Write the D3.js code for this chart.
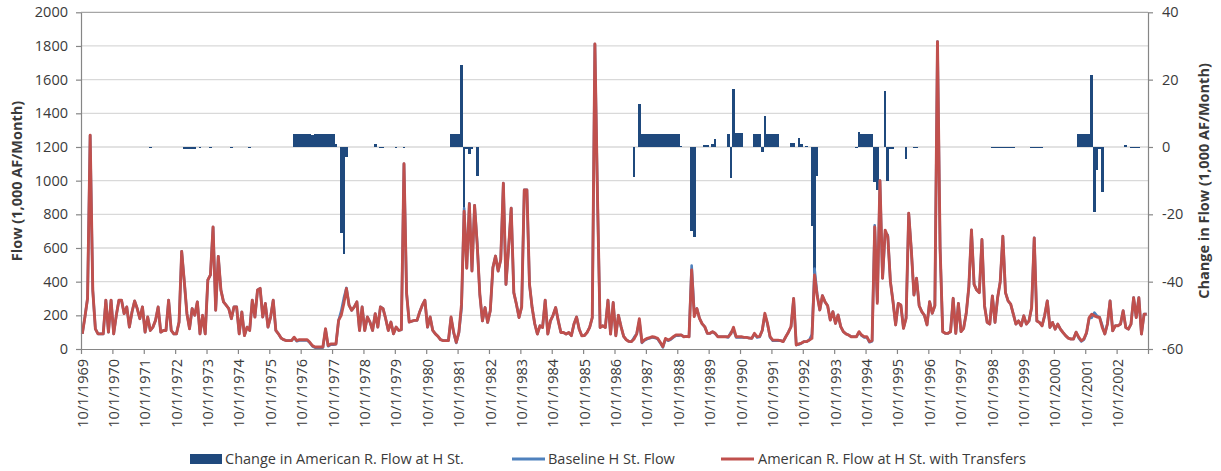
<!DOCTYPE html>
<html><head><meta charset="utf-8">
<script src="https://cdn.jsdelivr.net/npm/d3@7"></script>
<style>
html,body{margin:0;padding:0;background:#fff;}
svg{display:block;}
text{font-family:"Open Sans",sans-serif;fill:#3a3a3a;}
</style></head><body>
<svg id="chart" width="1221" height="471"></svg>
<script>
// Monthly series, water years Oct 1969 - Sep 2003 (one row = one water year, Oct..Sep)
const withTransfers = [
  90,190,300,1270,350,120,90,90,90,290,100,290,
  90,200,290,290,210,250,130,220,285,240,180,250,
  100,190,110,130,170,250,100,110,110,290,110,90,
  90,160,580,400,210,120,240,200,280,90,200,90,
  410,440,725,230,550,350,280,260,240,180,250,250,
  90,220,80,130,110,290,190,350,360,190,270,130,
  190,290,110,90,65,55,50,50,50,70,50,55,
  55,55,55,40,20,12,12,12,12,120,20,30,
  30,30,170,200,270,360,260,230,250,280,110,250,
  110,190,160,110,210,130,250,240,180,110,160,90,
  130,110,115,1100,330,160,165,170,170,220,260,290,
  130,190,110,90,75,55,50,50,50,190,100,40,
  100,265,818,480,863,463,853,620,325,167,246,158,
  227,483,552,463,530,985,384,600,837,335,266,187,
  250,945,945,384,246,150,89,138,128,290,89,167,
  200,246,167,98,98,89,98,79,148,190,118,79,
  80,98,128,187,1812,900,128,138,128,290,89,276,
  79,200,133,75,55,45,44,60,90,180,40,55,
  63,68,73,70,63,40,14,63,53,60,73,83,
  83,83,73,75,73,470,192,240,182,150,133,93,
  93,103,93,73,73,73,73,73,90,129,73,73,
  73,69,69,65,63,93,73,75,110,212,152,73,
  53,53,53,50,44,73,100,133,300,24,30,35,
  44,44,53,63,440,317,232,317,280,257,172,222,
  152,202,133,103,90,83,73,73,73,103,83,73,
  73,44,50,725,271,1000,420,706,667,400,281,143,
  271,261,123,182,806,588,321,420,257,222,200,143,
  281,212,257,1826,600,103,93,93,103,301,93,271,
  103,123,212,370,707,384,350,335,650,256,158,148,
  315,158,305,400,670,335,286,266,207,148,167,138,
  197,148,167,246,660,167,158,138,200,286,128,158,
  118,148,118,98,79,65,59,59,100,70,49,60,
  98,187,207,197,190,187,128,89,150,286,108,138,
  138,148,227,128,118,148,305,187,305,89,207,207
];
const baseline = [
  90,190,300,1270,350,120,90,90,90,290,100,290,
  90,200,290,290,210,250,130,220,285,240,180,250,
  100,190,110,130,170,250,100,110,110,290,110,90,
  90,160,580,400,211,121,241,201,280,90,200,90,
  410,440,725,230,550,350,280,260,240,180,250,250,
  90,220,80,130,110,290,190,350,360,190,270,130,
  190,290,110,90,65,55,50,50,50,66,46,51,
  51,51,51,36,16,8,8,8,8,116,16,26,
  26,29,170,226,302,363,260,230,250,280,110,250,
  110,190,160,110,209,130,250,240,180,110,160,90,
  130,110,115,1100,330,160,165,170,170,220,260,290,
  130,190,110,90,75,55,50,50,50,186,96,36,
  96,241,836,481,865,464,853,629,325,167,246,158,
  227,483,552,463,530,985,384,600,837,335,266,187,
  250,945,945,384,246,150,89,138,128,290,89,167,
  200,246,167,98,98,89,98,79,148,190,118,79,
  80,98,128,187,1812,900,128,138,128,290,89,276,
  79,200,133,75,55,45,44,69,90,167,36,51,
  59,64,69,66,59,36,10,59,49,56,69,79,
  79,83,73,75,73,495,219,240,182,150,132,92,
  93,102,91,73,73,73,73,69,99,112,69,69,
  69,69,69,65,63,89,69,71,111,203,148,69,
  49,49,49,50,44,73,100,132,299,24,27,34,
  44,44,53,87,478,326,232,317,280,257,172,222,
  152,202,133,103,90,83,73,73,73,99,79,69,
  69,40,46,735,284,1000,420,689,677,400,281,143,
  271,261,123,186,806,588,321,420,257,222,200,143,
  281,212,257,1826,600,103,93,93,103,301,93,271,
  103,123,212,370,707,384,350,335,650,256,158,148,
  315,158,305,400,670,335,286,266,207,148,167,138,
  197,148,167,246,660,167,158,138,200,286,128,158,
  118,148,118,98,79,65,59,59,100,66,45,56,
  94,183,186,216,197,188,142,89,150,286,108,138,
  138,148,227,127,118,148,305,187,305,89,207,207
];
const change = [
  0,0,0,0,0,0,0,0,0,0,0,0,
  0,0,0,0,0,0,0,0,0,0,0,0,
  0,0,-0.2,0,0,0,0,0,0,0,0,0,
  0,0,0,-0.5,-0.5,-0.5,-0.5,-0.5,0,-0.2,0,0,
  0,-0.3,0,0,0,0,0,0,0,-0.4,0,0,
  0,0,0,0,-0.4,0,0,0,0,0,0,0,
  0,0,0,0,0,0,0,0,0,4,4,4,
  4,4,4,4,3.6,4,4,4,4,4,4,4,
  4,1,0,-25.6,-31.8,-3.1,0,0,0,0,0,0,
  0,0,0,0,0.8,0,-0.3,-0.3,0,0,0,0,
  -0.2,0,0,-0.2,0,0,0,0,0,0,0,0,
  0,0,0,0,0,0,0,0,0,3.9,3.9,3.9,
  3.9,24.2,-18,-0.6,-2,-0.6,0,-8.6,0,0,0,0,
  0,0,0,0,0,0,0,0,0,0,0,0,
  0,0,0,0,0,0,0,0,0,0,0,0,
  0,0,0,0,0,0,0,0,0,0,0,0,
  0,0,0,0,0,0,0,0,0,0,0,0,
  0,0,0,0,0,0,0,-8.8,0,12.8,3.9,3.9,
  3.9,3.9,3.9,3.9,3.9,3.9,3.9,3.9,3.9,3.9,3.9,3.9,
  3.9,0.4,0,0,0,-25.1,-26.8,0,0,0,0.6,0.6,
  0,0.9,2.3,0,0,0,0,3.9,-9.3,17.1,4.1,4.1,
  4.1,0,0,0,0,3.9,3.9,3.9,-1.4,9.2,3.9,3.9,
  3.9,3.9,3.9,0,0,0,0,1.1,1.1,0,2.6,0.8,
  0,0.4,0,-23.5,-37.5,-8.5,0,0,0,0,0,0,
  0,0,0,0,0,0,0,0,-0.3,4.4,4,4,
  4,4,4,-10.3,-12.8,0,0,16.6,-10.1,-0.5,-0.5,0,
  0,0,0,-3.7,0,0,-0.2,-0.2,0,0,0,0,
  0,0,0,0,0,0,0,0,0,0,0,0,
  0,0,0,0,0,0,0,0,0,0,0,0,
  -0.2,-0.2,-0.2,-0.2,-0.2,-0.2,-0.2,-0.2,-0.2,0,0,0,
  0,0,0,-0.2,-0.2,-0.2,-0.2,-0.2,0,0,0,0,
  0,0,0,0,0,0,0,0,0,3.8,3.8,3.8,
  3.8,3.8,21.4,-19.2,-6.8,-0.7,-13.5,0,0,0,0,0,
  0,0,0,0.6,0,-0.1,-0.1,-0.1,-0.1,0,0,0
];
const leftTicks = [0,200,400,600,800,1000,1200,1400,1600,1800,2000];
const rightTicks = [-60,-40,-20,0,20,40];
const xTickLabels = ["10/1/1969","10/1/1970","10/1/1971","10/1/1972","10/1/1973","10/1/1974","10/1/1975","10/1/1976","10/1/1977","10/1/1978","10/1/1979","10/1/1980","10/1/1981","10/1/1982","10/1/1983","10/1/1984","10/1/1985","10/1/1986","10/1/1987","10/1/1988","10/1/1989","10/1/1990","10/1/1991","10/1/1992","10/1/1993","10/1/1994","10/1/1995","10/1/1996","10/1/1997","10/1/1998","10/1/1999","10/1/2000","10/1/2001","10/1/2002"];
const legendLabels = ["Change in American R. Flow at H St.","Baseline H St. Flow","American R. Flow at H St. with Transfers"];
const leftTitle = "Flow (1,000 AF/Month)";
const rightTitle = "Change in Flow (1,000 AF/Month)";

const C = {bar:"#1F497D", base:"#4F81BD", red:"#C0504D", grid:"#d9d9d9", axis:"#868686"};
const L = 81, R = 1148, T = 12.3, B = 349;

const svg = d3.select("#chart");
const n = withTransfers.length;
const idx = d3.range(n);
const x = d3.scaleBand().domain(idx).range([L, R]).paddingInner(0).paddingOuter(0);
const xc = i => x(i) + x.bandwidth() / 2;
const xEdge = d3.scaleLinear().domain([0, n]).range([L, R]);
const yL = d3.scaleLinear().domain([0, 2000]).range([B, T]);
const yR = d3.scaleLinear().domain([-60, 40]).range([B, T]);

// gridlines
svg.append("g").selectAll("line").data(leftTicks.filter(d => d > 0)).join("line")
  .attr("x1", L).attr("x2", R).attr("y1", d => yL(d)).attr("y2", d => yL(d))
  .attr("stroke", d => d === 2000 ? "#a6a6a6" : C.grid).attr("stroke-width", 1.3);

// bars (crisp edges so adjacent months form solid blocks)
const bw = x.bandwidth();
svg.append("g").attr("shape-rendering", "crispEdges")
  .selectAll("rect").data(idx.filter(i => change[i] !== 0)).join("rect")
  .attr("x", i => x(i)).attr("width", bw)
  .attr("y", i => Math.min(yR(0), yR(change[i])))
  .attr("height", i => Math.max(1, Math.abs(yR(change[i]) - yR(0))))
  .attr("fill", C.bar);

// lines
const line = d3.line().x((d, i) => xc(i)).y(d => yL(d));
svg.append("path").datum(baseline).attr("d", line).attr("fill", "none")
  .attr("stroke", C.base).attr("stroke-width", 2.6).attr("stroke-linejoin", "round");
svg.append("path").datum(withTransfers).attr("d", line).attr("fill", "none")
  .attr("stroke", C.red).attr("stroke-width", 2.9).attr("stroke-linejoin", "round");

// axes
const fmt = d => String(d);
const gl = svg.append("g").attr("transform", `translate(${L},0)`)
  .call(d3.axisLeft(yL).tickValues(leftTicks).tickFormat(fmt).tickSize(5).tickSizeOuter(0).tickPadding(8));
const gr = svg.append("g").attr("transform", `translate(${R},0)`)
  .call(d3.axisRight(yR).tickValues(rightTicks).tickFormat(fmt).tickSize(5).tickSizeOuter(0).tickPadding(9));
const gb = svg.append("g").attr("transform", `translate(0,${B})`)
  .call(d3.axisBottom(xEdge).tickValues(d3.range(0, n + 1, 12)).tickSize(5).tickSizeOuter(0).tickFormat(""));
[gl, gr, gb].forEach(g => {
  g.select(".domain").attr("stroke", C.axis).attr("stroke-width", 1.2);
  g.selectAll(".tick line").attr("stroke", C.axis).attr("stroke-width", 1.2);
  g.selectAll(".tick text").attr("font-family", '"Open Sans",sans-serif')
    .attr("font-size", 14.5).attr("fill", "#3a3a3a");
});

// x labels
svg.append("g").selectAll("text").data(xTickLabels).join("text")
  .attr("transform", (d, k) => `translate(${xc(k * 12)},359) rotate(-90)`)
  .attr("text-anchor", "end").attr("dy", "0.36em")
  .attr("font-size", 14.5).text(d => d);

// axis titles
svg.append("text").attr("transform", `translate(16.5,181) rotate(-90)`)
  .attr("text-anchor", "middle").attr("dy", "0.36em")
  .attr("font-size", 14.5).attr("font-weight", "bold").text(leftTitle);
svg.append("text").attr("transform", `translate(1203.5,181) rotate(-90)`)
  .attr("text-anchor", "middle").attr("dy", "0.36em")
  .attr("font-size", 14.5).attr("font-weight", "bold").text(rightTitle);

// legend
const lg = svg.append("g");
const ly = 459;
lg.append("rect").attr("x", 190).attr("y", ly - 5).attr("width", 32).attr("height", 10).attr("fill", C.bar);
lg.append("text").attr("x", 225).attr("y", ly).attr("dy", "0.36em").attr("font-size", 14.5).text(legendLabels[0]);
lg.append("line").attr("x1", 512).attr("x2", 545).attr("y1", ly).attr("y2", ly).attr("stroke", C.base).attr("stroke-width", 3);
lg.append("text").attr("x", 548).attr("y", ly).attr("dy", "0.36em").attr("font-size", 14.5).text(legendLabels[1]);
lg.append("line").attr("x1", 721).attr("x2", 754).attr("y1", ly).attr("y2", ly).attr("stroke", C.red).attr("stroke-width", 3);
lg.append("text").attr("x", 758).attr("y", ly).attr("dy", "0.36em").attr("font-size", 14.5).text(legendLabels[2]);
</script>
</body></html>
